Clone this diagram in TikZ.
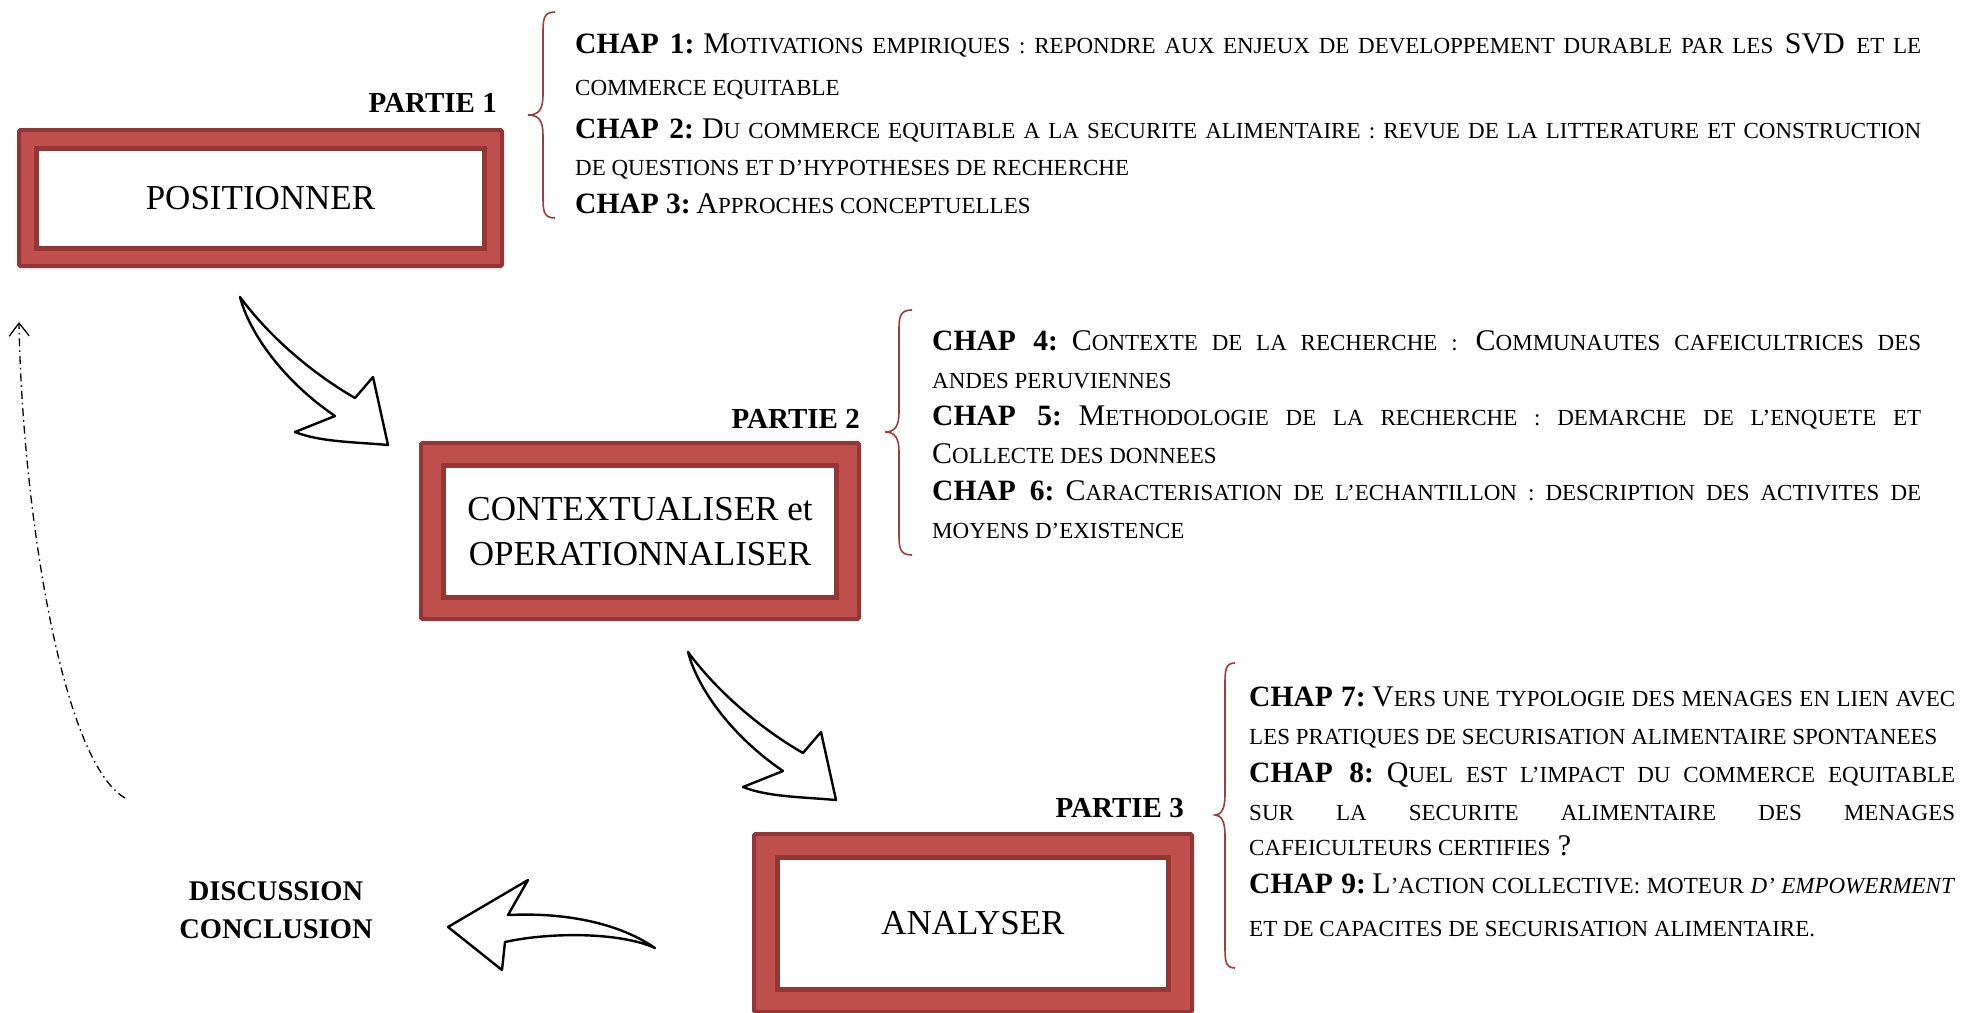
\documentclass[tikz,border=0pt]{standalone}
\usepackage{fontspec}
\setmainfont{Liberation Serif}
\usetikzlibrary{arrows.meta}
\definecolor{boxred}{RGB}{192,80,77}
\definecolor{boxdark}{RGB}{148,54,52}
\definecolor{bracered}{RGB}{160,60,58}
\newcommand\sm[1]{{\fontsize{23}{27}\selectfont #1}}
\newcommand\chapl[1]{{\bfseries\fontsize{29.5}{34}\selectfont CHAP #1:}\sm{\ }}
\newcommand\mybrace[6]{%
  \draw[bracestyle] (#1,#4) .. controls (#2,#4) and (#2,#4+8) .. (#2,#4+22)
    -- (#2,#5-20) .. controls (#2,#5-6) and (#2-4,#5) .. (#3,#5)
    .. controls (#2-4,#5) and (#2,#5+6) .. (#2,#5+20)
    -- (#2,#6-22) .. controls (#2,#6-8) and (#2,#6) .. (#1,#6);}
\newcommand\downarrowshape{%
  \draw[hollow] (240,297) .. controls (268,335) and (310,372) .. (355,398)
    -- (373,377) -- (388,445) .. controls (355,442) and (320,442) .. (295,432)
    -- (335,416) .. controls (285,382) and (250,335) .. (240,297) -- cycle;}
\begin{document}
\begin{tikzpicture}[x=1pt,y=-1pt,
  bracestyle/.style={draw=bracered, line width=1.6pt},
  hollow/.style={draw=black, fill=white, line width=2.4pt, line join=round},
  outerbox/.style={rectangle, draw=boxdark, fill=boxred, line width=4pt, inner sep=0pt, rounded corners=1.5pt},
  innerbox/.style={rectangle, draw=boxdark, fill=white, line width=5pt, inner sep=0pt, align=center, font=\fontsize{35}{45}\selectfont},
  txtline/.style={anchor=base west, inner sep=0pt, font=\fontsize{30}{36}\selectfont},
  partie/.style={anchor=base east, inner sep=0pt, font=\bfseries\fontsize{29}{34}\selectfont},
  concl/.style={anchor=base, inner sep=0pt, font=\bfseries\fontsize{28.5}{34}\selectfont},
  loop/.style={line width=1.3pt, dash pattern=on 8pt off 4pt on 1.5pt off 4pt, -{Straight Barb[length=13pt,width=20pt]}}
]
\useasboundingbox (0,0) rectangle (1961,1012);

% boxes
\node[outerbox, minimum width=483pt, minimum height=136pt] (box1) at (260.5,198) {};
\node[innerbox, minimum width=448pt, minimum height=100pt] (in1) at (260.5,198.5) {POSITIONNER};

\node[outerbox, minimum width=438pt, minimum height=176pt] (box2) at (640,531) {};
\node[innerbox, minimum width=393pt, minimum height=132pt] (in2) at (640,531.5) {CONTEXTUALISER et\\OPERATIONNALISER};

\node[outerbox, minimum width=438pt, minimum height=178pt] (box3) at (973,923) {};
\node[innerbox, minimum width=391pt, minimum height=132pt] (in3) at (973,923.5) {ANALYSER};

% part labels
\node[partie] (p1) at (497,112) {PARTIE 1};
\node[partie] (p2) at (860,428) {PARTIE 2};
\node[partie] (p3) at (1184,817) {PARTIE 3};

\node[concl] (disc) at (276,900) {DISCUSSION};
\node[concl] (conc) at (276,938) {CONCLUSION};

% braces
\mybrace{555}{543}{528}{12}{115}{218}
\mybrace{912}{899}{885}{310}{432}{555}
\mybrace{1235}{1225}{1215}{663}{815}{968}

% block 1
\node[txtline] (c1a) at (575,53) {\makebox[1346pt][s]{\chapl{1}M\sm{OTIVATIONS EMPIRIQUES : REPONDRE AUX ENJEUX DE DEVELOPPEMENT DURABLE PAR LES} SVD \sm{ET LE}}};
\node[txtline] (c1b) at (575,95) {\sm{COMMERCE EQUITABLE}};
\node[txtline] (c1c) at (575,138) {\makebox[1346pt][s]{\chapl{2}D\sm{U COMMERCE EQUITABLE A LA SECURITE ALIMENTAIRE : REVUE DE LA LITTERATURE ET CONSTRUCTION}}};
\node[txtline] (c1d) at (575,175) {\sm{DE QUESTIONS ET D’HYPOTHESES DE RECHERCHE}};
\node[txtline] (c1e) at (575,213) {\chapl{3}A\sm{PPROCHES CONCEPTUELLES}};

% block 2
\node[txtline] (c2a) at (932,350) {\makebox[989pt][s]{\chapl{4}C\sm{ONTEXTE DE LA RECHERCHE :} C\sm{OMMUNAUTES CAFEICULTRICES DES}}};
\node[txtline] (c2b) at (932,388) {\sm{ANDES PERUVIENNES}};
\node[txtline] (c2c) at (932,425) {\makebox[989pt][s]{\chapl{5}M\sm{ETHODOLOGIE DE LA RECHERCHE : DEMARCHE DE L’ENQUETE ET}}};
\node[txtline] (c2d) at (932,463) {C\sm{OLLECTE DES DONNEES}};
\node[txtline] (c2e) at (932,500) {\makebox[989pt][s]{\chapl{6}C\sm{ARACTERISATION DE L’ECHANTILLON : DESCRIPTION DES ACTIVITES DE}}};
\node[txtline] (c2f) at (932,538) {\sm{MOYENS D’EXISTENCE}};

% block 3
\node[txtline] (c3a) at (1249,706) {\makebox[706pt][s]{\chapl{7}V\sm{ERS UNE TYPOLOGIE DES MENAGES EN LIEN AVEC}}};
\node[txtline] (c3b) at (1249,744) {\sm{LES PRATIQUES DE SECURISATION ALIMENTAIRE SPONTANEES}};
\node[txtline] (c3c) at (1249,782) {\makebox[706pt][s]{\chapl{8}Q\sm{UEL EST L’IMPACT DU COMMERCE EQUITABLE}}};
\node[txtline] (c3d) at (1249,820) {\makebox[706pt][s]{\sm{SUR LA SECURITE ALIMENTAIRE DES MENAGES}}};
\node[txtline] (c3e) at (1249,855) {\sm{CAFEICULTEURS CERTIFIES} ?};
\node[txtline] (c3f) at (1249,893) {\makebox[706pt][s]{\chapl{9}L\sm{’ACTION COLLECTIVE: MOTEUR \textit{D’ EMPOWERMENT}}}};
\node[txtline] (c3g) at (1249,936) {\sm{ET DE CAPACITES DE SECURISATION ALIMENTAIRE.}};

% hollow arrows
\downarrowshape
\begin{scope}[shift={(448,355)}]
\downarrowshape
\end{scope}
\draw[hollow] (655,948) .. controls (622,925) and (570,912) .. (508,915)
  -- (528,880) -- (448,927) -- (502,970) -- (505,942)
  .. controls (550,932) and (620,932) .. (655,948) -- cycle;

% dash-dot return arrow
\coordinate (loopstart) at (125,798);
\coordinate (loopend) at (19,322);
\draw[loop] (loopstart) .. controls (60,760) and (22,500) .. (loopend);
\end{tikzpicture}
\end{document}
